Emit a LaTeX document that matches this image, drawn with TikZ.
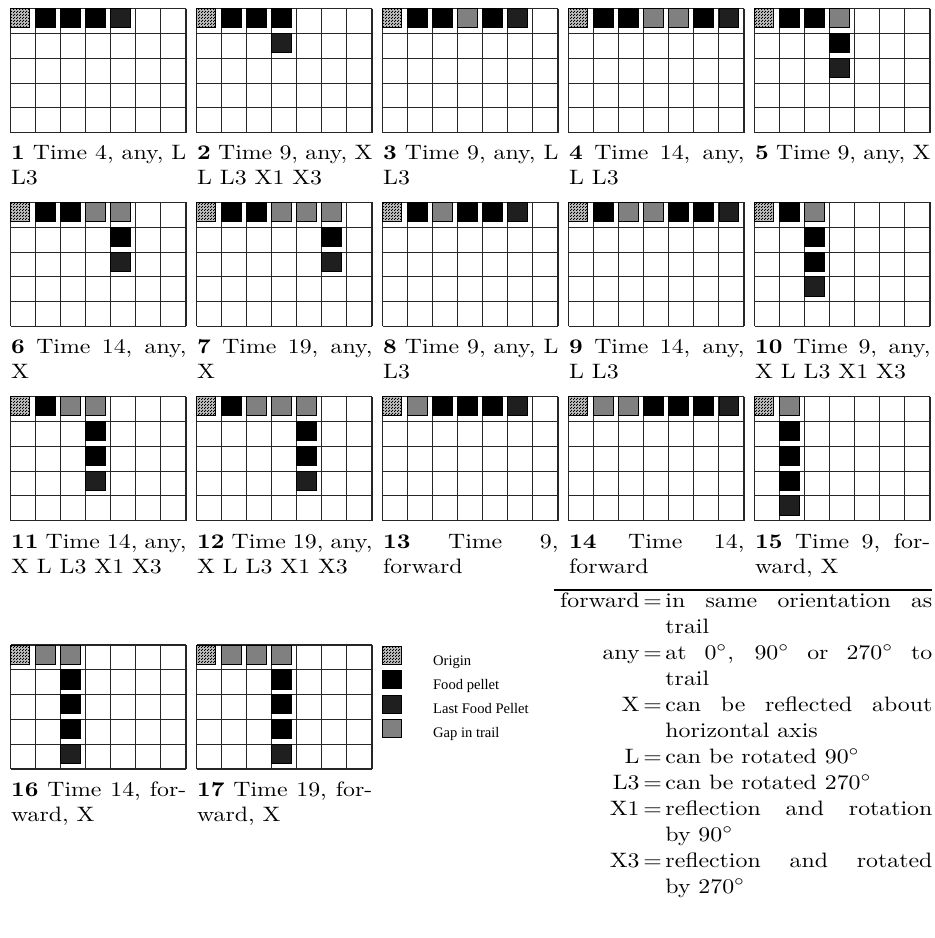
\documentclass[tikz,border=0pt]{standalone}
\usepackage{fontspec}
\usepackage{graphicx}
\newfontfamily\legfont{Liberation Serif}
\usetikzlibrary{patterns.meta}
\tikzdeclarepattern{
  name=finechk, type=uncolored,
  bottom left={(0pt,0pt)}, top right={(1.2pt,1.2pt)}, tile size={(1.2pt,1.2pt)},
  code={\fill (0pt,0pt) rectangle (0.6pt,0.6pt); \fill (0.6pt,0.6pt) rectangle (1.2pt,1.2pt);}
}
\tikzset{
  gline/.style={line width=0.5pt, draw=black!85},
  cO/.style={fill=black!25, postaction={pattern=finechk, pattern color=black}, draw=black, line width=0.4pt},
  cF/.style={fill=black},
  cL/.style={fill=black!88},
  cG/.style={fill=black!50, draw=black, line width=0.4pt},
  captn/.style={inner sep=0pt, anchor=base west},
  legtxt/.style={inner sep=0pt, anchor=base west, font=\legfont\fontsize{7pt}{8pt}\selectfont},
  termtxt/.style={inner sep=0pt, anchor=base east},
  eqtxt/.style={inner sep=0pt, anchor=base},
  deftext/.style={inner sep=0pt, anchor=base west},
}
\newlength{\capw}\setlength{\capw}{73.6pt}
\newlength{\defw}\setlength{\defw}{112.1pt}
\newcommand{\hs}[1]{\scalebox{1.143}[1]{#1}}
\newcommand{\tgrid}[3]{%
  \begin{scope}[shift={(#1,#2)}]
    \foreach \i in {0,...,7} \draw[gline] ({\i*25.04},0) -- ({\i*25.04},124);
    \foreach \j in {0,...,5} \draw[gline] (0,{\j*24.8}) -- (175.3,{\j*24.8});
    \foreach \c/\r/\t in {#3} \draw[\t] ({(\c-1)*25.04},{(\r-1)*24.8}) rectangle ++(19.2,19.2);
  \end{scope}}
\newcommand{\jl}[1]{\makebox[\capw][s]{#1}}
\newcommand{\jd}[1]{\hs{\makebox[\defw][s]{#1}}}
\newcommand{\capbox}[2]{\hs{\parbox[t]{\capw}{\baselineskip=12pt\jl{#1}\\#2}}}
\begin{document}
\begin{tikzpicture}[x=0.48pt,y=-0.48pt]
\useasboundingbox (0,0) rectangle (934,938);
% row 1
\tgrid{10.7}{8.7}{1/1/cO,2/1/cF,3/1/cF,4/1/cF,5/1/cL}
\tgrid{196.7}{8.7}{1/1/cO,2/1/cF,3/1/cF,4/1/cF,4/2/cL}
\tgrid{382.7}{8.7}{1/1/cO,2/1/cF,3/1/cF,4/1/cG,5/1/cF,6/1/cL}
\tgrid{568.7}{8.7}{1/1/cO,2/1/cF,3/1/cF,4/1/cG,5/1/cG,6/1/cF,7/1/cL}
\tgrid{754.7}{8.7}{1/1/cO,2/1/cF,3/1/cF,4/1/cG,4/2/cF,4/3/cL}
% row 2
\tgrid{10.7}{202.5}{1/1/cO,2/1/cF,3/1/cF,4/1/cG,5/1/cG,5/2/cF,5/3/cL}
\tgrid{196.7}{202.5}{1/1/cO,2/1/cF,3/1/cF,4/1/cG,5/1/cG,6/1/cG,6/2/cF,6/3/cL}
\tgrid{382.7}{202.5}{1/1/cO,2/1/cF,3/1/cG,4/1/cF,5/1/cF,6/1/cL}
\tgrid{568.7}{202.5}{1/1/cO,2/1/cF,3/1/cG,4/1/cG,5/1/cF,6/1/cF,7/1/cL}
\tgrid{754.7}{202.5}{1/1/cO,2/1/cF,3/1/cG,3/2/cF,3/3/cF,3/4/cL}
% row 3
\tgrid{10.7}{396.7}{1/1/cO,2/1/cF,3/1/cG,4/1/cG,4/2/cF,4/3/cF,4/4/cL}
\tgrid{196.7}{396.7}{1/1/cO,2/1/cF,3/1/cG,4/1/cG,5/1/cG,5/2/cF,5/3/cF,5/4/cL}
\tgrid{382.7}{396.7}{1/1/cO,2/1/cG,3/1/cF,4/1/cF,5/1/cF,6/1/cL}
\tgrid{568.7}{396.7}{1/1/cO,2/1/cG,3/1/cG,4/1/cF,5/1/cF,6/1/cF,7/1/cL}
\tgrid{754.7}{396.7}{1/1/cO,2/1/cG,2/2/cF,2/3/cF,2/4/cF,2/5/cL}
% row 4
\tgrid{10.7}{645}{1/1/cO,2/1/cG,3/1/cG,3/2/cF,3/3/cF,3/4/cF,3/5/cL}
\tgrid{196.7}{645}{1/1/cO,2/1/cG,3/1/cG,4/1/cG,4/2/cF,4/3/cF,4/4/cF,4/5/cL}

% captions
\node[captn] (c1) at (10.7,159.3) {\capbox{\textbf{1} Time 4, any, L}{L3}};
\node[captn] (c2) at (196.7,159.3) {\capbox{\textbf{2} Time 9, any, X}{L L3 X1 X3}};
\node[captn] (c3) at (382.7,159.3) {\capbox{\textbf{3} Time 9, any, L}{L3}};
\node[captn] (c4) at (568.7,159.3) {\capbox{\textbf{4} Time 14, any,}{L L3}};
\node[captn] (c5) at (754.7,159.3) {\capbox{\textbf{5} Time 9, any, X}{}};
\node[captn] (c6) at (10.7,354) {\capbox{\textbf{6} Time 14, any,}{X}};
\node[captn] (c7) at (196.7,354) {\capbox{\textbf{7} Time 19, any,}{X}};
\node[captn] (c8) at (382.7,354) {\capbox{\textbf{8} Time 9, any, L}{L3}};
\node[captn] (c9) at (568.7,354) {\capbox{\textbf{9} Time 14, any,}{L L3}};
\node[captn] (c10) at (754.7,354) {\capbox{\textbf{10} Time 9, any,}{X L L3 X1 X3}};
\node[captn] (c11) at (10.7,548) {\capbox{\textbf{11} Time 14, any,}{X L L3 X1 X3}};
\node[captn] (c12) at (196.7,548) {\capbox{\textbf{12} Time 19, any,}{X L L3 X1 X3}};
\node[captn] (c13) at (382.7,548) {\capbox{\textbf{13} Time 9,}{forward}};
\node[captn] (c14) at (568.7,548) {\capbox{\textbf{14} Time 14,}{forward}};
\node[captn] (c15) at (754.7,548) {\capbox{\textbf{15} Time 9, for-}{ward, X}};
\node[captn] (c16) at (10.7,796) {\capbox{\textbf{16} Time 14, for-}{ward, X}};
\node[captn] (c17) at (196.7,796) {\capbox{\textbf{17} Time 19, for-}{ward, X}};

% legend
\draw[cO] (382.3,646) rectangle ++(19.4,18.4);
\draw[cF] (382.3,670.5) rectangle ++(19.4,18.4);
\draw[cL] (382.3,695) rectangle ++(19.4,18.4);
\draw[cG] (382.3,719.5) rectangle ++(19.4,18.4);
\node[legtxt] (l1) at (432.7,665) {Origin};
\node[legtxt] (l2) at (432.7,689) {Food pellet};
\node[legtxt] (l3) at (432.7,713.3) {Last Food Pellet};
\node[legtxt] (l4) at (432.7,737.3) {Gap in trail};

% definitions
\draw[line width=0.9pt] (554,590) -- (932,590);
\foreach \n/\t/\y in {d1/forward/607, d2/any/659, d3/X/711, d4/L/763, d5/L3/789, d6/X1/815, d7/X3/867}{
  \node[termtxt] (\n t) at (640,\y) {\hs{\t}};
  \node[eqtxt] (\n e) at (652.5,\y) {\hs{$=$}};
}
\node[deftext] (d1a) at (665,607) {\jd{in same orientation as}};
\node[deftext] (d1b) at (665,633) {\hs{trail}};
\node[deftext] (d2a) at (665,659) {\jd{at 0$^\circ$, 90$^\circ$ or 270$^\circ$ to}};
\node[deftext] (d2b) at (665,685) {\hs{trail}};
\node[deftext] (d3a) at (665,711) {\jd{can be reflected about}};
\node[deftext] (d3b) at (665,737) {\hs{horizontal axis}};
\node[deftext] (d4a) at (665,763) {\hs{can be rotated 90$^\circ$}};
\node[deftext] (d5a) at (665,789) {\hs{can be rotated 270$^\circ$}};
\node[deftext] (d6a) at (665,815) {\jd{reflection and rotation}};
\node[deftext] (d6b) at (665,841) {\hs{by 90$^\circ$}};
\node[deftext] (d7a) at (665,867) {\jd{reflection and rotated}};
\node[deftext] (d7b) at (665,893) {\hs{by 270$^\circ$}};
\end{tikzpicture}
\end{document}
